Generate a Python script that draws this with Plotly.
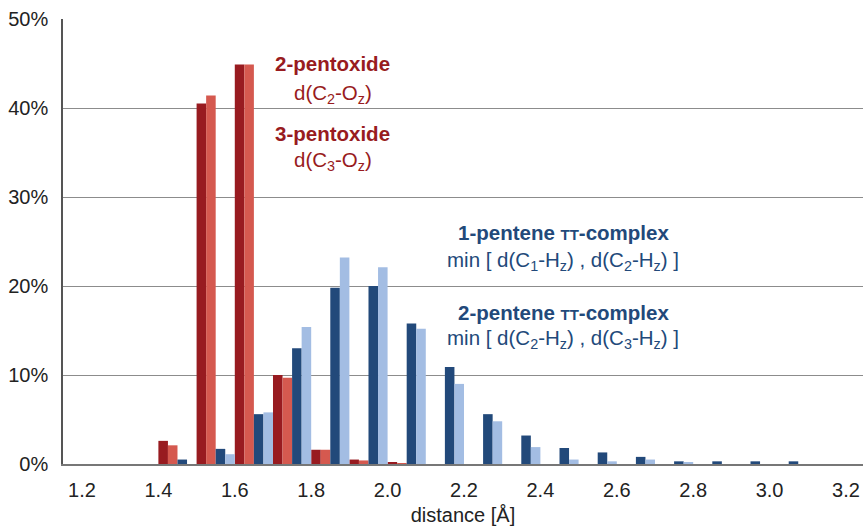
import plotly.graph_objects as go

bins = [1.4, 1.5, 1.6, 1.7, 1.8, 1.9, 2.0, 2.1, 2.2, 2.3, 2.4, 2.5, 2.6, 2.7, 2.8, 2.9, 3.0]
pentoxide2 = [2.6, 40.5, 44.9, 10.0, 1.6, 0.5, 0.15, 0, 0, 0, 0, 0, 0, 0, 0, 0, 0]
pentoxide3 = [2.1, 41.4, 44.9, 9.7, 1.6, 0.4, 0.1, 0, 0, 0, 0, 0, 0, 0, 0, 0, 0]
pentene1 = [0.5, 1.7, 5.6, 13.0, 19.8, 20.0, 15.8, 10.9, 5.6, 3.2, 1.8, 1.3, 0.8, 0.3, 0.3, 0.3, 0.3]
pentene2 = [0.0, 1.1, 5.8, 15.4, 23.2, 22.1, 15.2, 9.0, 4.8, 1.9, 0.5, 0.3, 0.5, 0.2, 0.0, 0.0, 0.0]

tick_vals = [1.2, 1.4, 1.6, 1.8, 2.0, 2.2, 2.4, 2.6, 2.8, 3.0, 3.2]
tick_text = ["1.2", "1.4", "1.6", "1.8", "2.0", "2.2", "2.4", "2.6", "2.8", "3.0", "3.2"]
y_ticks = [0, 10, 20, 30, 40, 50]
y_text = ["0%", "10%", "20%", "30%", "40%", "50%"]

DARK_RED = "#981b20"
LIGHT_RED = "#d5594f"
DARK_BLUE = "#22497a"
LIGHT_BLUE = "#a3bde3"

FONT = "Liberation Sans, Arial, sans-serif"

fig = go.Figure()
series = [
    (pentoxide2, DARK_RED, 0.0),
    (pentoxide3, LIGHT_RED, 0.025),
    (pentene1, DARK_BLUE, 0.05),
    (pentene2, LIGHT_BLUE, 0.075),
]
for vals, col, off in series:
    fig.add_trace(go.Bar(x=bins, y=vals, offset=off, width=0.025,
                         marker=dict(color=col, line=dict(width=0)),
                         showlegend=False))

fig.update_layout(
    width=863, height=528,
    margin=dict(l=63, r=0, t=19, b=64),
    plot_bgcolor="white", paper_bgcolor="white",
    barmode="overlay",
    font=dict(family=FONT, color="#222", size=20),
    xaxis=dict(range=[1.1503, 3.2445], tickvals=tick_vals, ticktext=tick_text,
               showgrid=False, zeroline=False, showline=True, linecolor="#777",
               linewidth=1.5, ticks="", ticklabelstandoff=7,
               tickfont=dict(size=20, color="#222"),
               title=dict(text="distance [Å]", font=dict(size=20, color="#222"), standoff=8)),
    yaxis=dict(range=[0, 50], tickvals=y_ticks, ticktext=y_text,
               showgrid=True, gridcolor="#8c8c8c", gridwidth=1.3, zeroline=False,
               showline=True, linecolor="#555", linewidth=1.5, ticks="",
               tickfont=dict(size=20, color="#222"),
               ticklabelstandoff=9),
)

def ann(text, x, y, color, bold=False):
    if bold:
        text = "<b>" + text + "</b>"
    fig.add_annotation(text=text, x=x, y=y, xref="paper", yref="paper",
                       xanchor="center", yanchor="middle", showarrow=False,
                       font=dict(family=FONT, size=20.5, color=color))

ann("2-pentoxide", 0.337, 0.899, DARK_RED, bold=True)
ann("d(C<sub>2</sub>-O<sub>z</sub>)", 0.337, 0.832, DARK_RED)
ann("3-pentoxide", 0.337, 0.742, DARK_RED, bold=True)
ann("d(C<sub>3</sub>-O<sub>z</sub>)", 0.337, 0.681, DARK_RED)

ann("1-pentene <span style='font-size:15px'>TT</span>-complex", 0.625, 0.521, DARK_BLUE, bold=True)
ann("min [ d(C<sub>1</sub>-H<sub>z</sub>) , d(C<sub>2</sub>-H<sub>z</sub>) ]", 0.625, 0.456, DARK_BLUE)
ann("2-pentene <span style='font-size:15px'>TT</span>-complex", 0.625, 0.341, DARK_BLUE, bold=True)
ann("min [ d(C<sub>2</sub>-H<sub>z</sub>) , d(C<sub>3</sub>-H<sub>z</sub>) ]", 0.625, 0.281, DARK_BLUE)

fig.write_html("out.html", config={"displayModeBar": False},
               post_script="document.body.style.margin='0';")
